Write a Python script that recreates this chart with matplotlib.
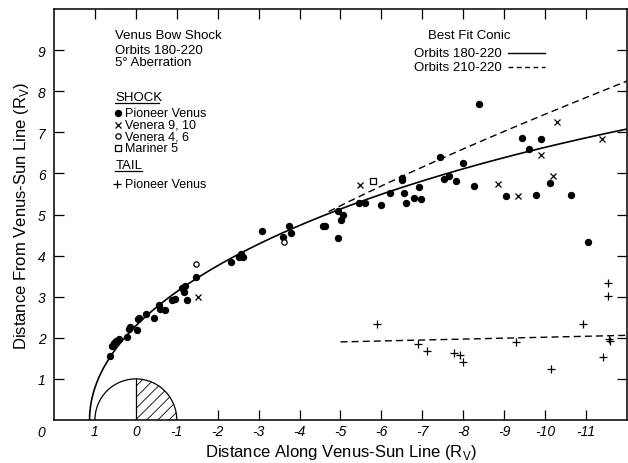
import numpy as np
import matplotlib.pyplot as plt
from matplotlib.patches import Wedge, Arc

plt.rcParams['font.family'] = ['Liberation Sans', 'DejaVu Sans']
plt.rcParams['mathtext.fontset'] = 'custom'
plt.rcParams['mathtext.rm'] = 'Liberation Sans'
plt.rcParams['hatch.linewidth'] = 0.6

# shock crossings (x along Venus-Sun line, y distance from it), R_V
pv_x = [0.62, 0.58, 0.54, 0.48, 0.41, 0.21, 0.17, 0.15, -0.03, -0.05, -0.07, -0.25,
        -0.44, -0.56, -0.60, -0.71, -0.89, -0.95, -1.13, -1.17, -1.20, -1.25, -1.48,
        -2.33, -2.51, -2.56, -2.61, -3.08, -3.59, -3.73, -3.80,
        -4.58, -4.61, -4.95, -5.05, -5.01, -4.95, -5.44, -5.60, -5.98, -6.20, -6.50,
        -6.50, -6.54, -6.59, -6.80, -6.92, -6.97, -7.43, -7.54, -7.65, -7.82, -8.00,
        -8.26, -8.38, -9.04, -9.44, -9.60, -9.77, -9.90, -10.12, -10.64, -11.04]
pv_y = [1.55, 1.81, 1.87, 1.93, 1.98, 2.02, 2.22, 2.26, 2.20, 2.45, 2.49, 2.59,
        2.49, 2.79, 2.71, 2.67, 2.91, 2.95, 3.20, 3.11, 3.26, 2.91, 3.48,
        3.85, 3.97, 4.05, 3.97, 4.59, 4.46, 4.71, 4.54,
        4.73, 4.71, 5.08, 5.00, 4.86, 4.43, 5.29, 5.27, 5.22, 5.53, 5.90,
        5.85, 5.53, 5.28, 5.41, 5.68, 5.37, 6.41, 5.86, 5.94, 5.81, 6.26,
        5.70, 7.69, 5.44, 6.85, 6.59, 5.48, 6.83, 5.76, 5.48, 4.33]

venera910_x = [-1.52, -5.48, -8.84, -9.34, -9.91, -10.20, -10.30, -11.39]
venera910_y = [2.99, 5.71, 5.74, 5.44, 6.45, 5.94, 7.24, 6.83]

venera46_x = [-1.48, -3.62]
venera46_y = [3.80, 4.32]

mariner5_x = [-5.80]
mariner5_y = [5.82]

# tail crossings
tail_x = [-5.90, -6.89, -7.12, -7.77, -7.93, -7.99, -9.28, -10.15, -10.93, -11.41,
          -11.56, -11.58, -11.53, -11.53]
tail_y = [2.34, 1.85, 1.68, 1.63, 1.59, 1.40, 1.89, 1.23, 2.33, 1.53,
          1.98, 1.92, 3.02, 3.34]
tail_fit_x = [-5.0, -12.0]
tail_fit_y = [1.90, 2.06]

# best fit conics r = L / (1 + e cos(theta)), focus at (x0, 0)
fit_180_220 = (-0.07, 0.965, 2.36)   # x0, e, L
fit_210_220 = (0.0, 1.048, 1.984)
fit_210_220_start = -4.7

xticks = [1, 0, -1, -2, -3, -4, -5, -6, -7, -8, -9, -10, -11]
yticks = [1, 2, 3, 4, 5, 6, 7, 8, 9]


def conic(x0, e, L, n=4000):
    th_max = np.pi if e < 1 else np.arccos(-1.0 / e) * 0.995
    th = np.linspace(0, th_max, n)
    r = L / (1 + e * np.cos(th))
    return x0 + r * np.cos(th), r * np.sin(th)


fig = plt.figure(figsize=(6.28, 4.64), dpi=100)
ax = fig.add_axes([54 / 628, 43 / 464, 573 / 628, 411 / 464])
ax.set_xlim(2, -12)
ax.set_ylim(0, 10)

# Venus (night side hatched)
ax.add_patch(Wedge((0, 0), 1, 90, 180, facecolor='none', edgecolor='k', hatch='///', lw=0))
ax.add_patch(Arc((0, 0), 2, 2, theta1=0, theta2=180, color='k', lw=0.9))
ax.plot([0, 0], [0, 1], color='k', lw=0.9)

# fits
cx, cy = conic(*fit_180_220)
ax.plot(cx, cy, color='k', lw=1.2)
dx, dy = conic(*fit_210_220)
keep = (dx <= fit_210_220_start) & (dx >= -12.5)
ax.plot(dx[keep], dy[keep], color='k', lw=1.0, dashes=(5, 3))
ax.plot(tail_fit_x, tail_fit_y, color='k', lw=1.0, dashes=(5, 3))

# data
ax.plot(pv_x, pv_y, 'o', color='k', ms=4.3, ls='none')
ax.plot(venera910_x, venera910_y, 'x', color='k', ms=4.5, mew=0.9, ls='none')
ax.plot(venera46_x, venera46_y, 'o', mfc='white', mec='k', ms=3.8, mew=0.9, ls='none')
ax.plot(mariner5_x, mariner5_y, 's', mfc='white', mec='k', ms=4.2, mew=0.9, ls='none')
ax.plot(tail_x, tail_y, '+', color='k', ms=6, mew=0.9, ls='none')

# axes styling
for s in ax.spines.values():
    s.set_linewidth(1.1)
ax.set_xticks(xticks)
ax.set_xticklabels([str(t) for t in xticks], style='italic', fontsize=10)
ax.set_yticks(yticks)
ax.set_yticklabels([str(t) for t in yticks], style='italic', fontsize=10)
ax.tick_params(direction='in', length=7, width=0.9, top=True, right=True)
ax.tick_params(axis='x', pad=3)
ax.tick_params(axis='y', pad=6)
for t in ax.xaxis.get_major_ticks()[:3]:
    t.tick1line.set_visible(False)
ax.text(2.30, -0.28, '0', style='italic', fontsize=10, ha='center', va='center')

ax.set_xlabel('Distance Along Venus-Sun Line (R$_{\\rm V}$)', fontsize=12, labelpad=3)
ax.set_ylabel('Distance From Venus-Sun Line (R$_{\\rm V}$)', fontsize=12, labelpad=5)

# left annotation block
fs = 9.5
ax.text(0.50, 9.37, 'Venus Bow Shock', fontsize=fs, va='center')
ax.text(0.50, 9.01, 'Orbits 180-220', fontsize=fs, va='center')
ax.text(0.50, 8.70, '5° Aberration', fontsize=fs, va='center')
ax.text(0.50, 7.87, 'SHOCK', fontsize=fs, va='center')
ax.plot([0.50, -0.57], [7.72, 7.72], color='k', lw=0.9)
ax.plot([0.43], [7.48], 'o', color='k', ms=4.3)
ax.text(0.27, 7.48, 'Pioneer Venus', fontsize=fs - 0.5, va='center')
ax.plot([0.43], [7.18], 'x', color='k', ms=4.5, mew=0.9)
ax.text(0.27, 7.18, 'Venera 9, 10', fontsize=fs - 0.5, va='center')
ax.plot([0.43], [6.90], 'o', mfc='white', mec='k', ms=3.8, mew=0.9)
ax.text(0.27, 6.90, 'Venera 4, 6', fontsize=fs - 0.5, va='center')
ax.plot([0.43], [6.61], 's', mfc='white', mec='k', ms=4.2, mew=0.9)
ax.text(0.27, 6.61, 'Mariner 5', fontsize=fs - 0.5, va='center')
ax.text(0.50, 6.20, 'TAIL', fontsize=fs, va='center')
ax.plot([0.50, -0.15], [6.05, 6.05], color='k', lw=0.9)
ax.plot([0.45], [5.74], '+', color='k', ms=6, mew=0.9)
ax.text(0.27, 5.74, 'Pioneer Venus', fontsize=fs - 0.5, va='center')

# right annotation block
ax.text(-7.15, 9.37, 'Best Fit Conic', fontsize=fs, va='center')
ax.text(-6.80, 8.93, 'Orbits 180-220', fontsize=fs, va='center')
ax.plot([-9.10, -10.0], [8.93, 8.93], color='k', lw=1.0)
ax.text(-6.80, 8.60, 'Orbits 210-220', fontsize=fs, va='center')
ax.plot([-9.10, -10.0], [8.60, 8.60], color='k', lw=1.0, dashes=(3.5, 2.5))

fig.savefig('out.png', dpi=100)
